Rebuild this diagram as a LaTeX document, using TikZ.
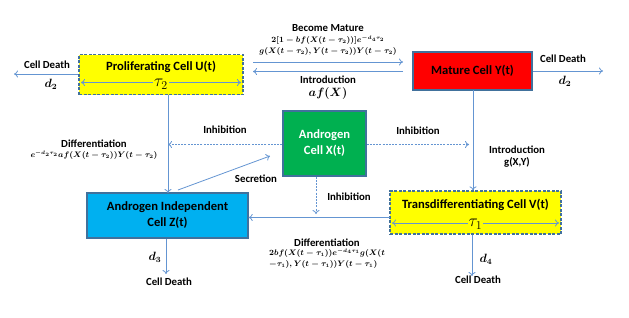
\documentclass[tikz,border=0pt]{standalone}
\usepackage[no-math]{fontspec}
\setmainfont{Carlito}
\usepackage{amsmath}
\usetikzlibrary{arrows.meta}
\definecolor{ln}{RGB}{100,149,210}
\definecolor{bd}{RGB}{65,113,156}
\definecolor{ylw}{RGB}{255,255,0}
\definecolor{rd}{RGB}{255,0,0}
\definecolor{grn}{RGB}{0,176,80}
\definecolor{blu}{RGB}{0,176,240}
\newcommand{\bfm}[1]{{\boldmath$#1$}}
\tikzset{
  box/.style={draw=bd, line width=1.3pt, inner sep=0pt, align=center, font=\fontsize{12.6}{15}\selectfont\bfseries},
  dbox/.style={box, dash pattern=on 3pt off 1.5pt},
  arr/.style={draw=ln, line width=0.8pt, -{To[length=4pt,width=7pt]}},
  darr/.style={arr, dash pattern=on 2pt off 1.2pt},
  dbl/.style={draw=ln, line width=0.8pt, {To[length=4pt,width=7pt]}-{To[length=4pt,width=7pt]}},
  lbl/.style={inner sep=0pt, align=center, font=\fontsize{10.8}{12.5}\selectfont\bfseries},
  frm/.style={inner sep=0pt, align=center, font=\fontsize{7.8}{11}\selectfont},
  dl/.style={inner sep=0pt, font=\fontsize{11.5}{12}\selectfont},
  tau/.style={inner sep=1pt, font=\fontsize{18}{19}\selectfont},
}
\begin{document}
\begin{tikzpicture}[x=1pt,y=-1pt]
\useasboundingbox (0,0) rectangle (629,317);
% boxes
\node[dbox, fill=ylw, minimum width=164pt, minimum height=40pt] (U) at (161,74.5) {};
\node[box, draw=none] (Ut) at (161,67) {Proliferating Cell U(t)};
\node[box, fill=rd, minimum width=119pt, minimum height=38pt] (Y) at (472.5,71) {Mature Cell Y(t)};
\node[box, fill=grn, text=white, minimum width=83pt, minimum height=65pt] (X) at (324.5,143.5) {Androgen\\[1pt]Cell X(t)};
\node[box, fill=blu, minimum width=161pt, minimum height=45pt] (Z) at (167.5,215.5) {Androgen Independent\\[1pt]Cell Z(t)};
\node[dbox, fill=ylw, minimum width=171pt, minimum height=43pt] (V) at (475.5,212.5) {};
\node[box, draw=none] (Vt) at (475.5,205) {Transdifferentiating Cell V(t)};
% tau arrows
\coordinate (u1) at (81,82.5);
\coordinate (u2) at (241,82.5);
\draw[dbl] (u1) -- (u2);
\node[tau, fill=ylw] (t2) at (161,84) {$\tau_2$};
\coordinate (v1) at (392,223);
\coordinate (v2) at (559,223);
\draw[dbl] (v1) -- (v2);
\node[tau, fill=ylw] (t1) at (475.5,224.5) {$\tau_1$};
% U cell death
\coordinate (ud) at (14,74);
\draw[arr] (U.west |- ud) -- (ud);
\node[lbl] (udl) at (47,65) {Cell Death};
\node[dl] (udd) at (51,84.5) {\bfm{d_2}};
% Y cell death
\coordinate (yd) at (603,71);
\draw[arr] (Y.east |- yd) -- (yd);
\node[lbl] (ydl) at (563,59) {Cell Death};
\node[dl] (ydd) at (565,81.5) {\bfm{d_2}};
% become mature / introduction
\coordinate (b1) at (253,62);
\coordinate (b2) at (403,62);
\coordinate (i1) at (403,71.5);
\coordinate (i2) at (253,71.5);
\draw[arr] (b1) -- (b2);
\draw[arr] (i1) -- (i2);
\node[lbl] (bml) at (328,28) {Become Mature};
\node[frm] (bmf) at (328,46) {\bfm{2[1-bf(X(t-\tau_2))]e^{-d_4\tau_2}}\\\bfm{g(X(t-\tau_2),Y(t-\tau_2))Y(t-\tau_2)}};
\node[lbl] (intl) at (328,79.5) {Introduction};
\node[dl] (intf) at (328,93) {\bfm{af(X)}};
% U -> Z
\coordinate (uz1) at (168,95);
\coordinate (uz2) at (168,193);
\draw[arr] (uz1) -- (uz2);
\node[lbl] (dfl) at (94,144) {Differentiation};
\node[frm] (dff) at (94,155.5) {\bfm{e^{-d_2\tau_2}af(X(t-\tau_2))Y(t-\tau_2)}};
% inhibition left
\coordinate (il) at (168,144.5);
\draw[darr] (X.west |- il) -- (il);
\node[lbl] (ill) at (225,130) {Inhibition};
% secretion
\coordinate (s1) at (178,190);
\coordinate (s2) at (270,156);
\draw[arr] (s1) -- (s2);
\node[lbl] (sec) at (256,179) {Secretion};
% inhibition right
\coordinate (ir) at (469,144.5);
\draw[darr] (X.east |- ir) -- (ir);
\node[lbl] (irl) at (418,131) {Inhibition};
% Y -> V
\coordinate (yv) at (473,90);
\draw[arr] (yv) -- (yv |- V.north);
\node[lbl] (ygl) at (517,156.5) {Introduction\\g(X,Y)};
% inhibition down
\coordinate (idn) at (316,214);
\draw[darr] (X.south -| idn) -- (idn);
\node[lbl] (idl) at (349,197) {Inhibition};
% V -> Z
\coordinate (vz) at (390,217.5);
\draw[arr] (vz) -- (Z.east |- vz);
\node[lbl] (dfl2) at (327,242.5) {Differentiation};
\node[frm, align=left, anchor=west] (dff2) at (269,258.5) {\bfm{2bf(X(t-\tau_1))e^{-d_4\tau_1}g(X(t}\\\bfm{-\tau_1),Y(t-\tau_1))Y(t-\tau_1)}};
% Z death
\coordinate (zd) at (166,274);
\draw[arr] (Z.south -| zd) -- (zd);
\node[dl] (zdd) at (155,257) {\bfm{d_3}};
\node[lbl] (zdl) at (169,282) {Cell Death};
% V death
\coordinate (vd) at (472,276);
\draw[arr] (V.south -| vd) -- (vd);
\node[dl] (vdd) at (486,259) {\bfm{d_4}};
\node[lbl] (vdl) at (478,280) {Cell Death};
\end{tikzpicture}
\end{document}
